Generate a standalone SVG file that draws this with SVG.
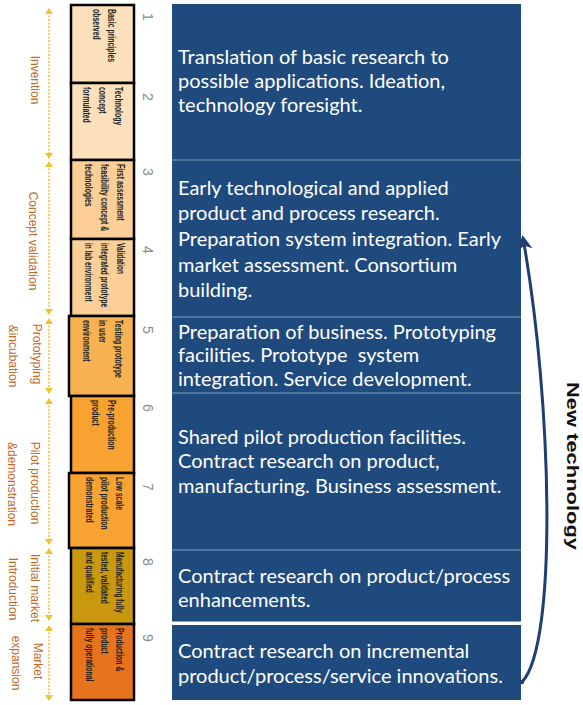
<svg xmlns="http://www.w3.org/2000/svg" width="583" height="705" viewBox="0 0 583 705">
<style>
.ph{font-family:"Liberation Sans",Arial,sans-serif;font-size:12px;fill:#BF6A28;text-anchor:middle}
.bx{font-family:"Liberation Sans",Arial,sans-serif;font-size:11px;font-weight:bold;fill:#222}
.num{font-family:"Liberation Sans",Arial,sans-serif;font-size:14px;fill:#8c8c8c;text-anchor:middle}
.rt{font-family:Lato,"Liberation Sans",sans-serif;font-size:20px;fill:#ffffff}
.box{stroke:#000;stroke-width:2.5}
.seg{stroke:#F2C12E;stroke-width:1.5;stroke-dasharray:2 1.5;fill:none}
.ah{fill:#F2C12E}
.sep{stroke:#7F9DC6;stroke-width:1.2}
</style>
<defs>
<marker id="arr" viewBox="0 0 10 10" refX="8" refY="5" markerWidth="5" markerHeight="5" orient="auto" markerUnits="strokeWidth">
<path d="M0,0 L10,5 L0,10 L3,5 Z" fill="#1F3E72"/>
</marker>
</defs>
<rect width="583" height="705" fill="#ffffff"/>

<g id="phases">
<line class="seg" x1="49" y1="12" x2="49" y2="155"/>
<polygon class="ah" points="49,8 45,14 53,14"/><polygon class="ah" points="49,159 45,153 53,153"/>
<text class="ph" transform="translate(31,80) rotate(90)">Invention</text>
<line class="seg" x1="49" y1="165" x2="49" y2="311"/>
<polygon class="ah" points="49,161 45,167 53,167"/><polygon class="ah" points="49,315 45,309 53,309"/>
<text class="ph" transform="translate(29,241) rotate(90)">Concept validation</text>
<line class="seg" x1="49" y1="322" x2="49" y2="390"/>
<polygon class="ah" points="49,318 45,324 53,324"/><polygon class="ah" points="49,394 45,388 53,388"/>
<text class="ph" transform="translate(33,354) rotate(90)">Prototyping</text>
<text class="ph" transform="translate(9,356) rotate(90)">&amp;incubation</text>
<line class="seg" x1="49" y1="402" x2="49" y2="541"/>
<polygon class="ah" points="49,398 45,404 53,404"/><polygon class="ah" points="49,545 45,539 53,539"/>
<text class="ph" transform="translate(31,483) rotate(90)">Pilot production</text>
<text class="ph" transform="translate(8,484) rotate(90)">&amp;demonstration</text>
<line class="seg" x1="49" y1="552" x2="49" y2="617"/>
<polygon class="ah" points="49,548 45,554 53,554"/><polygon class="ah" points="49,621 45,615 53,615"/>
<text class="ph" transform="translate(31,588) rotate(90)">Initial market</text>
<text class="ph" transform="translate(9,589) rotate(90)">Introduction</text>
<line class="seg" x1="49" y1="629" x2="49" y2="697"/>
<polygon class="ah" points="49,625 45,631 53,631"/><polygon class="ah" points="49,701 45,695 53,695"/>
<text class="ph" transform="translate(34,661) rotate(90)">Market</text>
<text class="ph" transform="translate(12,663) rotate(90)">expansion</text>
</g>

<g id="trl1"><rect class="box" x="71" y="5" width="63" height="78" fill="#FCE0BC"/>
<text class="bx" transform="translate(108,9) rotate(90) scale(0.63,1)"><tspan x="0" y="0">Basic principles</tspan><tspan x="0" y="15">observed</tspan></text></g>
<g id="trl2"><rect class="box" x="71" y="83" width="63" height="77" fill="#FCE0BC"/>
<text class="bx" transform="translate(115,87) rotate(90) scale(0.63,1)"><tspan x="0" y="0">Technology</tspan><tspan x="0" y="16">concept</tspan><tspan x="0" y="32">formulated</tspan></text></g>
<g id="trl3"><rect class="box" x="71" y="160" width="63" height="79" fill="#FBCF97"/>
<text class="bx" transform="translate(117,164) rotate(90) scale(0.63,1)"><tspan x="0" y="0">First assessment</tspan><tspan x="0" y="16">feasibility concept &amp;</tspan><tspan x="0" y="32">technologies</tspan></text></g>
<g id="trl4"><rect class="box" x="71" y="239" width="63" height="77" fill="#FBCF97"/>
<text class="bx" transform="translate(117,243) rotate(90) scale(0.6,1)"><tspan x="0" y="0">Validation</tspan><tspan x="0" y="16">integrated prototype</tspan><tspan x="0" y="32">in lab environment</tspan></text></g>
<g id="trl5"><rect class="box" x="69" y="316" width="65" height="80" fill="#F8B252"/>
<text class="bx" transform="translate(115,320) rotate(90) scale(0.63,1)"><tspan x="0" y="0">Testing prototype</tspan><tspan x="0" y="16">in user</tspan><tspan x="0" y="32">environment</tspan></text></g>
<g id="trl6"><rect class="box" x="71" y="396" width="63" height="77" fill="#F8A232"/>
<text class="bx" transform="translate(108,400) rotate(90) scale(0.63,1)"><tspan x="0" y="0">Pre-production</tspan><tspan x="0" y="16">product</tspan></text></g>
<g id="trl7"><rect class="box" x="69" y="473" width="65" height="75" fill="#F8A232"/>
<text class="bx" transform="translate(116,477) rotate(90) scale(0.63,1)"><tspan x="0" y="0">Low scale</tspan><tspan x="0" y="15">pilot production</tspan><tspan x="0" y="30">demonstrated</tspan></text></g>
<g id="trl8"><rect class="box" x="71" y="548" width="63" height="76" fill="#C9980F"/>
<text class="bx" transform="translate(116,552) rotate(90) scale(0.6,1)"><tspan x="0" y="0">Manufacturing fully</tspan><tspan x="0" y="15">tested, validated</tspan><tspan x="0" y="30">and qualified</tspan></text></g>
<g id="trl9"><rect class="box" x="71" y="624" width="63" height="76" fill="#E8731D"/>
<text class="bx" transform="translate(116,628) rotate(90) scale(0.63,1)"><tspan x="0" y="0">Production &amp;</tspan><tspan x="0" y="15">product</tspan><tspan x="0" y="30">fully operational</tspan></text></g>

<g id="numbers">
<text class="num" transform="translate(143,17) rotate(90)">1</text>
<text class="num" transform="translate(143,97) rotate(90)">2</text>
<text class="num" transform="translate(143,172) rotate(90)">3</text>
<text class="num" transform="translate(143,250) rotate(90)">4</text>
<text class="num" transform="translate(143,330) rotate(90)">5</text>
<text class="num" transform="translate(143,408) rotate(90)">6</text>
<text class="num" transform="translate(143,487) rotate(90)">7</text>
<text class="num" transform="translate(143,562) rotate(90)">8</text>
<text class="num" transform="translate(143,638) rotate(90)">9</text>
</g>

<g id="panel">
<rect x="172" y="4" width="349" height="617.5" fill="#1F4A7E"/>
<rect x="172" y="625" width="349" height="75" fill="#1F4A7E"/>
<line class="sep" x1="172" y1="160" x2="521" y2="160"/>
<line class="sep" x1="172" y1="317" x2="521" y2="317"/>
<line class="sep" x1="172" y1="393" x2="521" y2="393"/>
<line class="sep" x1="172" y1="550" x2="521" y2="550"/>
</g>
<g id="desc1"><text class="rt"><tspan x="178" y="64">Translation of basic research to</tspan><tspan x="178" y="88">possible applications. Ideation,</tspan><tspan x="178" y="112">technology foresight.</tspan></text></g>
<g id="desc2"><text class="rt"><tspan x="178" y="195">Early technological and applied</tspan><tspan x="178" y="220">product and process research.</tspan><tspan x="178" y="246">Preparation system integration. Early</tspan><tspan x="178" y="272">market assessment. Consortium</tspan><tspan x="178" y="297">building.</tspan></text></g>
<g id="desc3"><text class="rt"><tspan x="178" y="339">Preparation of business. Prototyping</tspan><tspan x="178" y="362">facilities. Prototype&#160; system</tspan><tspan x="178" y="386">integration. Service development.</tspan></text></g>
<g id="desc4"><text class="rt"><tspan x="178" y="444">Shared pilot production facilities.</tspan><tspan x="178" y="468">Contract research on product,</tspan><tspan x="178" y="493">manufacturing. Business assessment.</tspan></text></g>
<g id="desc5"><text class="rt"><tspan x="178" y="583">Contract research on product/process</tspan><tspan x="178" y="607">enhancements.</tspan></text></g>
<g id="desc6"><text class="rt"><tspan x="178" y="658">Contract research on incremental</tspan><tspan x="178" y="683">product/process/service innovations.</tspan></text></g>

<g id="connectors">
<path d="M 522 682 C 558 645, 552 400, 523 238" fill="none" stroke="#1F3E72" stroke-width="3" marker-end="url(#arr)"/>
<circle cx="522" cy="682" r="2.2" fill="#1F3E72"/>
</g>
<g id="newtech">
<text transform="translate(567,466) rotate(90)" font-family="Liberation Sans,Arial,sans-serif" font-size="17" font-weight="bold" fill="#111" text-anchor="middle" textLength="168" lengthAdjust="spacingAndGlyphs">New technology</text>
</g>
</svg>
